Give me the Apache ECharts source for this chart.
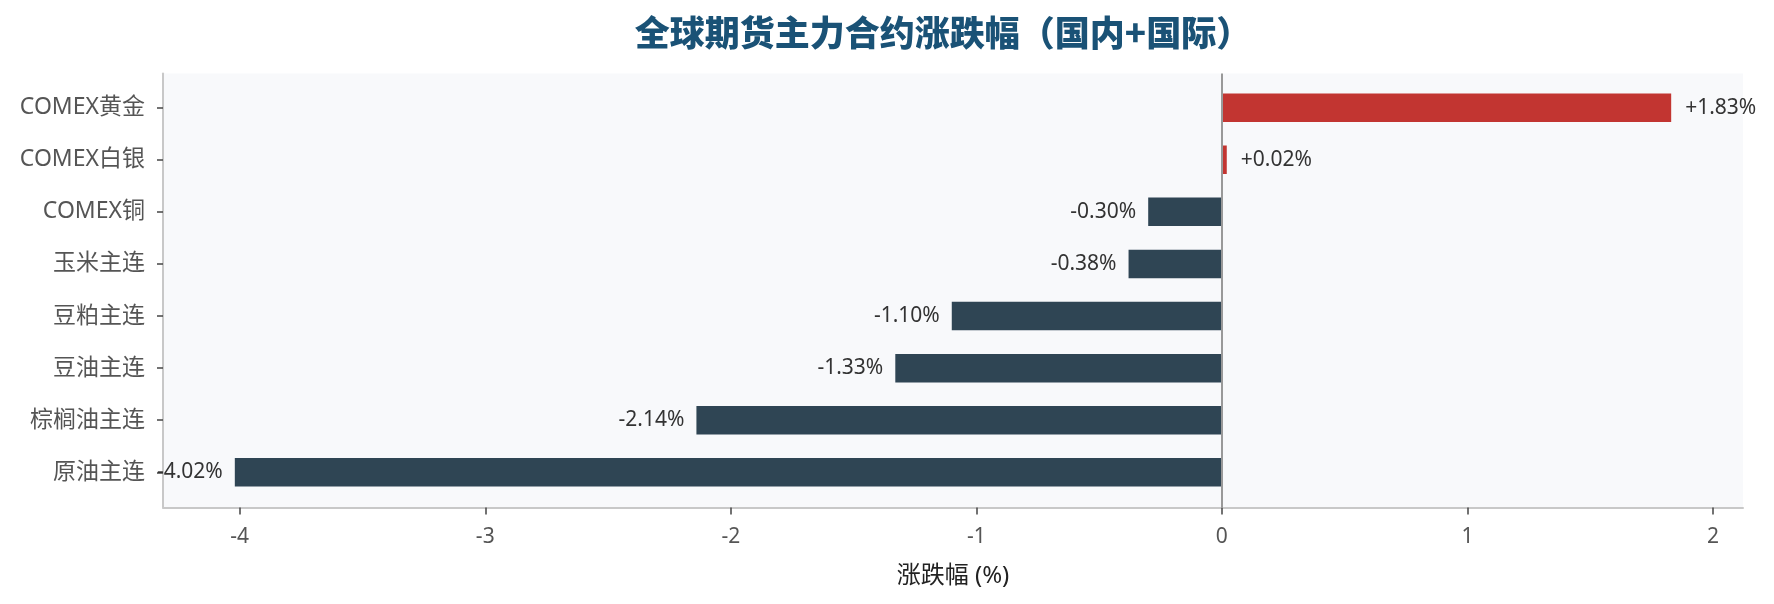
<!DOCTYPE html>
<html>
<head>
<meta charset="utf-8">
<script src="https://cdn.jsdelivr.net/npm/echarts@6/dist/echarts.min.js"></script>
<style>
html,body{margin:0;padding:0;background:#ffffff;}
#chart{width:1774px;height:604px;}
</style>
</head>
<body>
<div id="chart"></div>
<script>
const titleText = '全球期货主力合约涨跌幅（国内+国际）';
const categories = ['COMEX黄金', 'COMEX白银', 'COMEX铜', '玉米主连', '豆粕主连', '豆油主连', '棕榈油主连', '原油主连'];
const changes = [1.83, 0.02, -0.30, -0.38, -1.10, -1.33, -2.14, -4.02];
const xTicks = [-4, -3, -2, -1, 0, 1, 2];
const xAxisName = '涨跌幅 (%)';

const FONT = "'Noto Sans', 'Noto Sans CJK SC', sans-serif";
const UP = '#c23531';
const DOWN = '#2f4554';
// full plotted x-range (with 5% margins) and tick range
const XMIN = -4.3125, XMAX = 2.1225;
const TMIN = xTicks[0], TMAX = xTicks[xTicks.length - 1];

// plot box in pixels
const BOX_L = 163, BOX_R = 1743, BOX_T = 73.5, BOX_B = 507.5, W = 1774, H = 604;
const pxPerUnit = (BOX_R - BOX_L) / (XMAX - XMIN);
const tickL = BOX_L + (TMIN - XMIN) * pxPerUnit;
const tickR = BOX_L + (TMAX - XMIN) * pxPerUnit;

const chart = echarts.init(document.getElementById('chart'));
chart.setOption({
  backgroundColor: '#ffffff',
  animation: false,
  textStyle: { fontFamily: FONT },
  graphic: [{
    type: 'text',
    x: 943, y: 33,
    style: {
      text: titleText,
      fontSize: 35, fontWeight: 900, fontFamily: "'Noto Sans CJK SC', 'Noto Sans', sans-serif",
      fill: '#1a5276',
      align: 'center', verticalAlign: 'middle',
      textAlign: 'center', textVerticalAlign: 'middle'
    }
  }],
  grid: [
    // background box with left & bottom spines
    { left: BOX_L, right: W - BOX_R, top: BOX_T, bottom: H - BOX_B, show: true, backgroundColor: '#f8f9fb', borderWidth: 0 },
    // data area
    { left: BOX_L, right: W - BOX_R, top: 81.6, bottom: 105.6 },
    // tick axis (integer ticks only)
    { left: tickL, right: W - tickR, top: BOX_T, bottom: H - BOX_B }
  ],
  xAxis: [
    {
      gridIndex: 0, type: 'value', min: XMIN, max: XMAX, position: 'bottom',
      splitLine: { show: false },
      axisLine: { show: true, onZero: false, lineStyle: { color: '#c8c8c8', width: 2 } },
      axisTick: { show: false },
      axisLabel: { show: false },
      name: xAxisName, nameLocation: 'middle', nameGap: 57,
      nameTextStyle: { color: '#222', fontSize: 24, fontFamily: FONT }
    },
    {
      gridIndex: 1, type: 'value', min: XMIN, max: XMAX,
      show: false
    },
    {
      gridIndex: 2, type: 'value', min: TMIN, max: TMAX, interval: 1, position: 'bottom',
      splitLine: { show: false },
      axisLine: { show: false, onZero: false },
      axisTick: { show: true, length: 7, lineStyle: { color: '#444', width: 1.5 } },
      axisLabel: { show: true, color: '#555', fontSize: 21, margin: 19, fontFamily: FONT }
    }
  ],
  yAxis: [
    {
      gridIndex: 0, type: 'value', min: 0, max: 1, position: 'left',
      splitLine: { show: false },
      axisLine: { show: true, onZero: false, lineStyle: { color: '#c8c8c8', width: 2 } },
      axisTick: { show: false },
      axisLabel: { show: false }
    },
    {
      gridIndex: 1, type: 'category', data: categories, inverse: true, position: 'left',
      axisLine: { show: false, onZero: false },
      axisTick: { show: true, alignWithLabel: true, length: 6, lineStyle: { color: '#444', width: 1.5 } },
      axisLabel: { color: '#555', fontSize: 23, margin: 18, fontFamily: FONT },
      splitLine: { show: false }
    },
    {
      gridIndex: 2, type: 'value', min: 0, max: 1, show: false
    }
  ],
  series: [
    {
      type: 'line', xAxisIndex: 0, yAxisIndex: 0, data: [], silent: true,
      markLine: {
        silent: true, symbol: 'none', label: { show: false },
        lineStyle: { color: '#999999', width: 2, type: 'solid' },
        data: [{ xAxis: 0 }]
      }
    },
    {
      type: 'bar', xAxisIndex: 1, yAxisIndex: 1,
      barWidth: 28.5,
      data: changes.map(v => ({
        value: v,
        itemStyle: { color: v >= 0 ? UP : DOWN },
        label: {
          show: true,
          position: v >= 0 ? 'right' : 'left',
          distance: v >= 0 ? 14 : 12
        }
      })),
      label: {
        show: true, color: '#333', fontSize: 21, fontFamily: FONT,
        formatter: p => (p.value > 0 ? '+' : '') + p.value.toFixed(2) + '%'
      }
    }
  ]
});
</script>
</body>
</html>
